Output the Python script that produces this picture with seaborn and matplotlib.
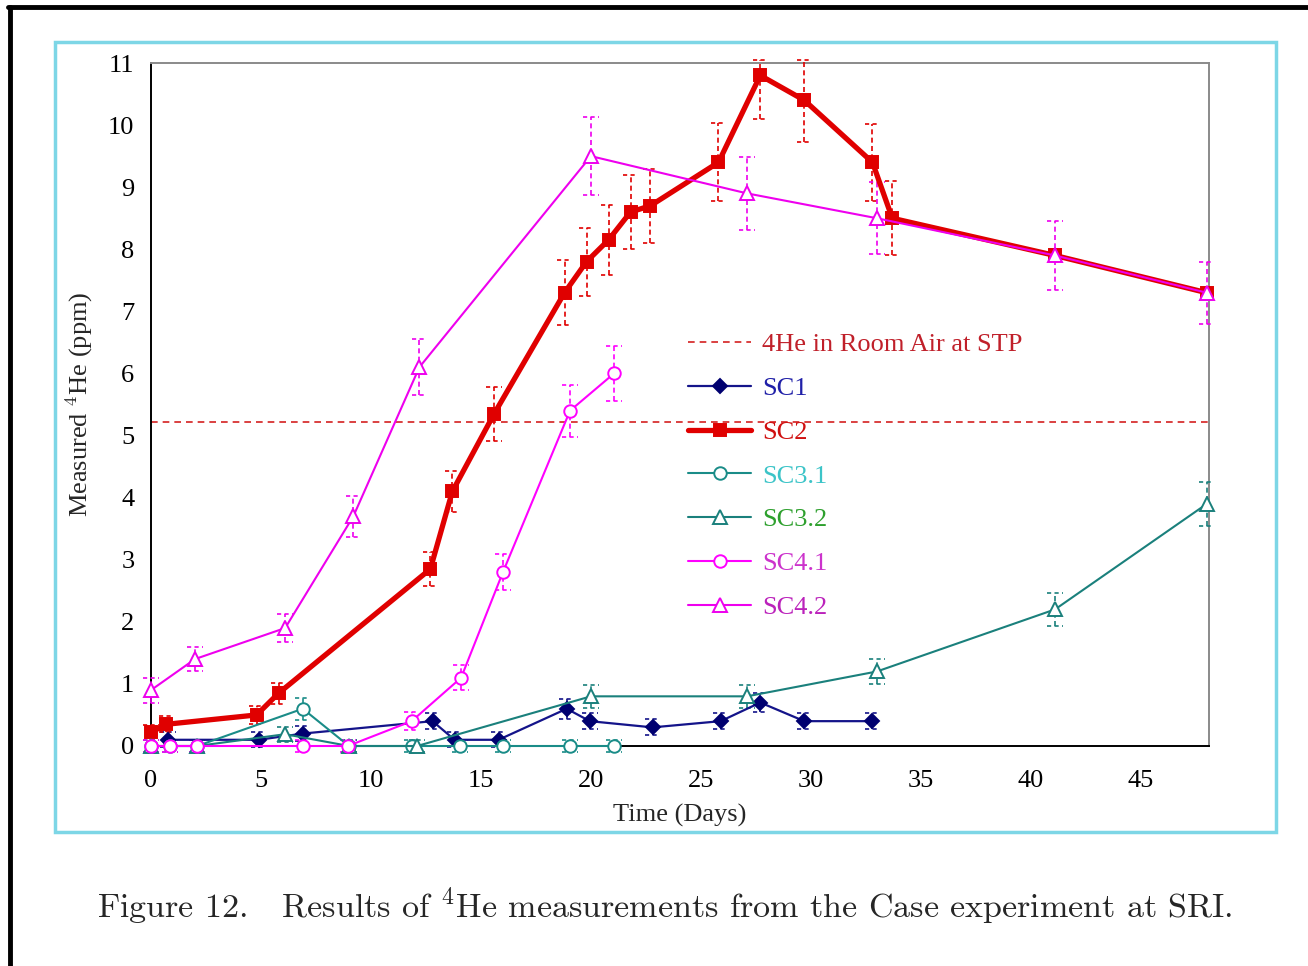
import numpy as np
import pandas as pd
import matplotlib
matplotlib.use("Agg")
import matplotlib.pyplot as plt
import seaborn as sns
from matplotlib.lines import Line2D
from matplotlib.patches import Rectangle

# ---------------- data ----------------
air_level = 5.22
air_label = "4He in Room Air at STP"

sc1_days = [0.77, 4.9, 6.9, 12.8, 13.8, 15.8, 18.9, 19.95, 22.8, 25.9, 27.7, 29.7, 32.8]
sc1_vals = [0.1, 0.1, 0.2, 0.4, 0.1, 0.1, 0.6, 0.4, 0.3, 0.4, 0.7, 0.4, 0.4]
sc1_err = [0.12, 0.12, 0.12, 0.13, 0.12, 0.12, 0.16, 0.13, 0.13, 0.13, 0.16, 0.13, 0.13]

sc2_days = [0, 0.7, 4.8, 5.8, 12.7, 13.7, 15.6, 18.8, 19.8, 20.8, 21.8, 22.7, 25.8,
            27.7, 29.7, 32.8, 33.7, 41.1, 48.0]
sc2_vals = [0.22, 0.35, 0.5, 0.85, 2.85, 4.1, 5.35, 7.3, 7.8, 8.15, 8.6, 8.7, 9.4,
            10.8, 10.4, 9.4, 8.5, 7.9, 7.3]
sc2_err = [0.12, 0.13, 0.15, 0.17, 0.27, 0.33, 0.43, 0.52, 0.55, 0.57, 0.6, 0.6, 0.63,
           0.7, 0.68, 0.62, 0.6, np.nan, np.nan]

sc31_days = [0, 0.86, 2.1, 6.9, 9.0, 11.85, 14.05, 16.0, 19.05, 21.05]
sc31_vals = [0, 0, 0, 0.6, 0, 0, 0, 0, 0, 0]
sc31_err = [0.1, 0.1, 0.1, 0.18, 0.1, 0.1, 0.1, 0.1, 0.1, 0.1]

sc32_days = [0, 2.1, 6.1, 9.0, 12.1, 20.0, 27.1, 33.0, 41.1, 48.0]
sc32_vals = [0, 0, 0.19, 0, 0, 0.8, 0.8, 1.2, 2.2, 3.9]
sc32_err = [0.1, 0.1, 0.12, 0.1, 0.1, 0.18, 0.18, 0.2, 0.27, 0.35]

sc41_days = [0, 0.86, 2.1, 6.9, 8.95, 11.85, 14.1, 16.0, 19.05, 21.05]
sc41_vals = [0, 0, 0, 0, 0, 0.4, 1.1, 2.8, 5.4, 6.0]
sc41_err = [0.1, 0.1, 0.1, 0.1, 0.1, 0.15, 0.2, 0.29, 0.42, 0.44]

sc42_days = [0, 2.0, 6.1, 9.2, 12.2, 20.0, 27.1, 33.0, 41.1, 48.0]
sc42_vals = [0.9, 1.4, 1.9, 3.7, 6.1, 9.5, 8.9, 8.5, 7.9, 7.3]
sc42_err = [0.2, 0.2, 0.23, 0.33, 0.45, 0.63, 0.59, 0.58, 0.55, 0.5]

x_ticks = [0, 5, 10, 15, 20, 25, 30, 35, 40, 45]
y_ticks = [0, 1, 2, 3, 4, 5, 6, 7, 8, 9, 10, 11]

# ---------------- style ----------------
sns.set_style("white")
plt.rcParams['font.family'] = ['Liberation Serif', 'DejaVu Serif']
plt.rcParams['mathtext.fontset'] = 'cm'

fig = plt.figure(figsize=(13.08, 9.66), dpi=100)
W, H = 1308, 966
ax = fig.add_axes([151 / W, 1 - 746 / H, (1209 - 151) / W, (746 - 63) / H])

series = [
    dict(name="SC1", d=sc1_days, v=sc1_vals, e=sc1_err, c="#14148a", m="D", ms=7.5,
         lw=1.6, mfc="#000070", tc="#2020a8"),
    dict(name="SC2", d=sc2_days, v=sc2_vals, e=sc2_err, c="#e00000", m="s", ms=9,
         lw=3.8, mfc="#e00000", tc="#d01010"),
    dict(name="SC3.1", d=sc31_days, v=sc31_vals, e=sc31_err, c="#1a8c88", m="o", ms=9,
         lw=1.5, mfc="white", tc="#3cc4c8"),
    dict(name="SC3.2", d=sc32_days, v=sc32_vals, e=sc32_err, c="#1a807c", m="^", ms=10,
         lw=1.5, mfc="white", tc="#2ea02e"),
    dict(name="SC4.1", d=sc41_days, v=sc41_vals, e=sc41_err, c="#ff00ff", m="o", ms=9,
         lw=1.5, mfc="white", tc="#cc33cc"),
    dict(name="SC4.2", d=sc42_days, v=sc42_vals, e=sc42_err, c="#ee00ee", m="^", ms=10,
         lw=1.5, mfc="white", tc="#bb22bb"),
]

# air reference line
air_handle = ax.axhline(air_level, color="#d42020", ls=(0, (4, 3)), lw=1.2, zorder=2)

handles = [air_handle]
labels = [air_label]
label_colors = ["#c0202a"]
cw = 0.35
y_top_clip = 11.05
for i, s in enumerate(series):
    d = np.array(s["d"], float)
    v = np.array(s["v"], float)
    e = np.array(s["e"], float)
    ok = ~np.isnan(e)
    hi = np.minimum(v + e, y_top_clip)[ok]
    lo = (v - e)[ok]
    # dashed error bars
    ax.vlines(d[ok], lo, hi, colors=s["c"], linestyles=(0, (3, 2)),
              lw=1.2, zorder=3 + i, clip_on=False)
    for yy in [hi, lo]:
        ax.hlines(yy, d[ok] - cw, d[ok] + cw, colors=s["c"], linestyles=(0, (2.5, 2)),
                  lw=1.2, zorder=3 + i, clip_on=False)
    df = pd.DataFrame({"Day": d, "ppm": v})
    sns.lineplot(data=df, x="Day", y="ppm", ax=ax, color=s["c"], lw=s["lw"],
                 marker=s["m"], ms=s["ms"], mfc=s["mfc"],
                 mec=s["c"] if s["mfc"] == "white" else s["mfc"],
                 mew=1.4, sort=False, estimator=None, zorder=10 + i, clip_on=False)
    line = ax.lines[-1]
    handles.append(line)
    labels.append(s["name"])
    label_colors.append(s["tc"])

ax.set_xlim(0, 48.1)
ax.set_ylim(0, 11)
ax.set_xticks(x_ticks)
ax.set_yticks(y_ticks)
ax.tick_params(axis="both", direction="inout", length=12, width=1.3, colors="black",
               labelsize=19, pad=6)
ax.tick_params(axis="x", pad=11)
ax.set_xlabel("Time (Days)", fontsize=19, labelpad=9)
ax.set_ylabel(r"Measured $^4$He (ppm)", fontsize=19, labelpad=9)
for side in ["left", "bottom"]:
    ax.spines[side].set_color("black")
    ax.spines[side].set_linewidth(1.4)
for side in ["top", "right"]:
    ax.spines[side].set_color("#8a8a8a")
    ax.spines[side].set_linewidth(1.4)

leg = ax.legend(handles, labels, loc="upper left", bbox_to_anchor=(0.5076, 0.605),
                frameon=False, fontsize=19, handlelength=2.4, handletextpad=0.42,
                labelspacing=0.77, borderpad=0, borderaxespad=0, labelcolor=label_colors)

# page decorations: black frame lines and cyan box
fig.add_artist(Line2D([8 / W, 1.0], [1 - 7 / H, 1 - 7 / H], color="black", lw=3.5,
                      transform=fig.transFigure))
fig.add_artist(Line2D([10 / W, 10 / W], [0, 1 - 7 / H], color="black", lw=3.5,
                      transform=fig.transFigure))
fig.add_artist(Rectangle((55 / W, 1 - 832 / H), (1276 - 55) / W, (832 - 42) / H,
                         fill=False, ec="#7dd6e6", lw=2.5, transform=fig.transFigure))

fig.text(665 / W, 1 - 906 / H,
         r"Figure 12.   Results of $^4$He measurements from the Case experiment at SRI.",
         ha="center", va="center", fontsize=24.5, family="cmr10")

fig.savefig("out.png", dpi=100)
